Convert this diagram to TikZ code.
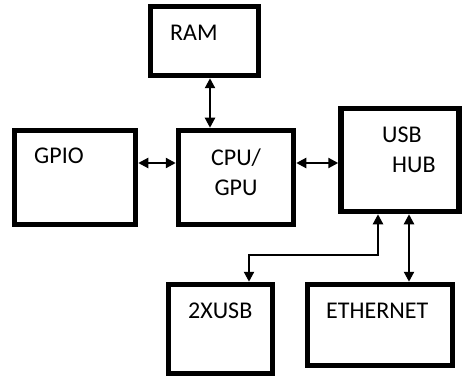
\documentclass[tikz,border=0pt]{standalone}
\usepackage{fontspec}
\setmainfont{Carlito}
\usetikzlibrary{arrows.meta}

\begin{document}
\begin{tikzpicture}[x=1pt, y=-1pt,
    box/.style={draw, line width=5.5pt, inner sep=0pt},
    txt/.style={inner sep=0pt, font=\fontsize{24}{29.5}\selectfont},
    link/.style={line width=2.2pt, {Triangle[width=10pt,length=10pt]}-{Triangle[width=10pt,length=10pt]}}]
    \useasboundingbox (0,0) rectangle (463,377);

    % Blocks
    \node[box, minimum width=108pt, minimum height=69pt] (ram) at (204.5,41) {};
    \node[box, minimum width=121pt, minimum height=94pt] (gpio) at (75,177.5) {};
    \node[box, minimum width=115pt, minimum height=94pt] (cpu) at (236,177.5) {};
    \node[box, minimum width=118pt, minimum height=103pt] (usb) at (400,160) {};
    \node[box, minimum width=104pt, minimum height=89pt] (twousb) at (220.5,329) {};
    \node[box, minimum width=145pt, minimum height=81pt] (eth) at (380,325) {};

    % Labels
    \node[txt, anchor=base west] (ramt) at (170,41) {RAM};
    \node[txt, anchor=base west] (gpiot) at (34,163) {GPIO};
    \node[txt, anchor=base, align=center] (cput) at (236,195) {CPU/\\GPU};
    \node[txt, anchor=base west, align=left] (usbt) at (382,172) {USB\\\hspace*{10pt}HUB};
    \node[txt, anchor=base west] (twousbt) at (188,318) {2XUSB};
    \node[txt, anchor=base west] (etht) at (326,318) {ETHERNET};

    % Buses
    \draw[link] ([xshift=5.5pt]ram.south) coordinate (r1) -- (r1 |- cpu.north);
    \draw[link] ([yshift=14.5pt]gpio.east) coordinate (g1) -- (g1 -| cpu.west);
    \draw[link] ([yshift=14.5pt]cpu.east) coordinate (c1) -- (c1 -| usb.west);
    \draw[link] ([xshift=28.5pt]twousb.north) coordinate (u1) -- ++(0,-27) -| ([xshift=-22pt]usb.south);
    \draw[link] ([xshift=9pt]usb.south) coordinate (u2) -- (u2 |- eth.north);
\end{tikzpicture}
\end{document}
